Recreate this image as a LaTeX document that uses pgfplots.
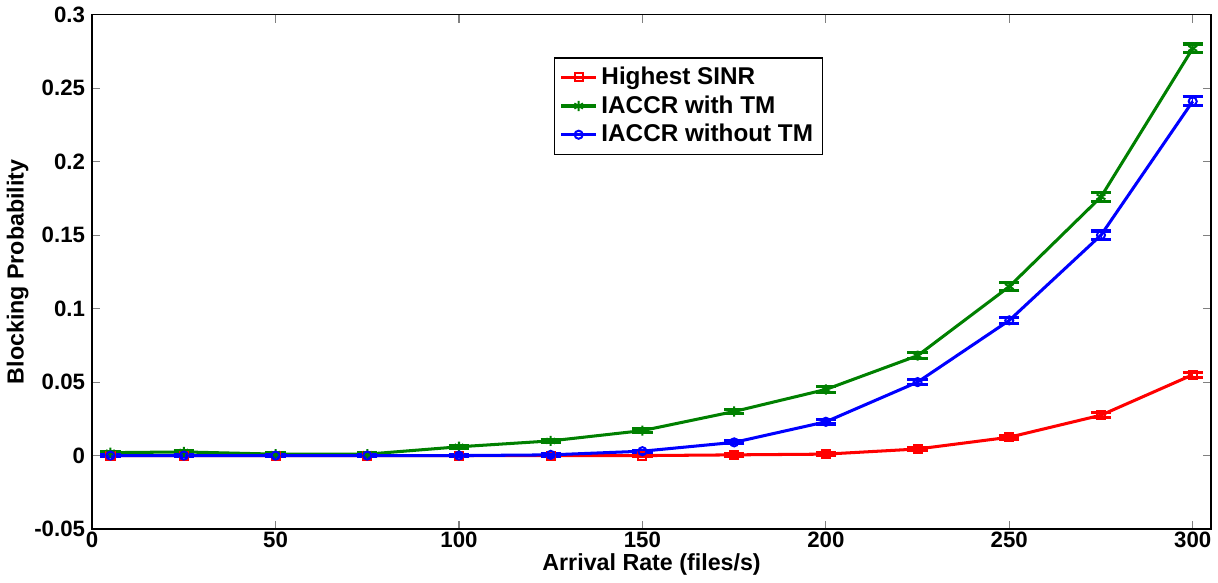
\documentclass[border=0pt]{standalone}
\usepackage{pgfplots}
\pgfplotsset{compat=1.18}
\usepackage{fontspec}
\setmainfont{Liberation Sans}
\definecolor{mgreen}{RGB}{0,128,0}
\begin{document}
\begin{tikzpicture}
\begin{axis}[
  scale only axis,
  width=553.5pt, height=254.5pt,
  xmin=0, xmax=305, ymin=-0.05, ymax=0.3,
  xtick={0,50,...,300},
  ytick={-0.05,0,0.05,0.1,0.15,0.2,0.25,0.3},
  yticklabels={-0.05,0,0.05,0.1,0.15,0.2,0.25,0.3},
  scaled y ticks=false,
  tick align=inside,
  major tick length=4pt,
  tick style={gray, line width=0.5pt},
  axis line style={black, line width=0.8pt},
  ticklabel style={font=\fontsize{11}{13}\selectfont\bfseries},
  xticklabel style={yshift=2pt},
  /pgf/number format/assume math mode=true,
  xlabel={Arrival Rate (files/s)},
  ylabel={Blocking Probability},
  label style={font=\fontsize{11.5}{13}\selectfont\bfseries},
  xlabel style={yshift=4pt},
  ylabel style={yshift=-4pt},
  legend style={at={(0.413,0.917)}, anchor=north west, draw=black, line width=0.6pt,
    font=\fontsize{12}{14}\selectfont\bfseries, inner sep=2.5pt, row sep=0pt,
    /tikz/every even column/.append style={column sep=2pt}},
  legend cell align=left,
  every axis plot/.append style={line width=1.5pt},
  error bars/error mark options={rotate=90, mark size=5pt, line width=1.5pt},
]
\addplot[red, mark=square, mark size=2pt, mark options={line width=1pt},
  error bars/.cd, y dir=both, y explicit]
  coordinates {
  (5,0) +- (0,0.0008)
  (25,0) +- (0,0.0008)
  (50,0) +- (0,0.0008)
  (75,0) +- (0,0.0008)
  (100,0) +- (0,0.0008)
  (125,0) +- (0,0.0008)
  (150,0) +- (0,0.0008)
  (175,0.0005) +- (0,0.0008)
  (200,0.001) +- (0,0.0008)
  (225,0.0045) +- (0,0.001)
  (250,0.0125) +- (0,0.0012)
  (275,0.0275) +- (0,0.0015)
  (300,0.055) +- (0,0.0018)
  };
\addlegendentry{Highest SINR}
\addplot[mgreen, mark=asterisk, mark size=2.5pt, mark options={line width=1pt},
  error bars/.cd, y dir=both, y explicit]
  coordinates {
  (5,0.002) +- (0,0.0008)
  (25,0.0025) +- (0,0.0008)
  (50,0.001) +- (0,0.0008)
  (75,0.001) +- (0,0.0008)
  (100,0.006) +- (0,0.001)
  (125,0.010) +- (0,0.001)
  (150,0.017) +- (0,0.0012)
  (175,0.030) +- (0,0.0015)
  (200,0.045) +- (0,0.0018)
  (225,0.068) +- (0,0.002)
  (250,0.115) +- (0,0.0025)
  (275,0.176) +- (0,0.003)
  (300,0.277) +- (0,0.003)
  };
\addlegendentry{IACCR with TM}
\addplot[blue, mark=o, mark size=2pt, mark options={line width=1pt},
  error bars/.cd, y dir=both, y explicit]
  coordinates {
  (5,0) +- (0,0.0008)
  (25,0) +- (0,0.0008)
  (50,0) +- (0,0.0008)
  (75,0) +- (0,0.0008)
  (100,0) +- (0,0.0008)
  (125,0.0005) +- (0,0.0008)
  (150,0.003) +- (0,0.0008)
  (175,0.009) +- (0,0.001)
  (200,0.023) +- (0,0.0015)
  (225,0.050) +- (0,0.0018)
  (250,0.092) +- (0,0.0022)
  (275,0.150) +- (0,0.0028)
  (300,0.241) +- (0,0.003)
  };
\addlegendentry{IACCR without TM}
\end{axis}
\end{tikzpicture}
\end{document}
